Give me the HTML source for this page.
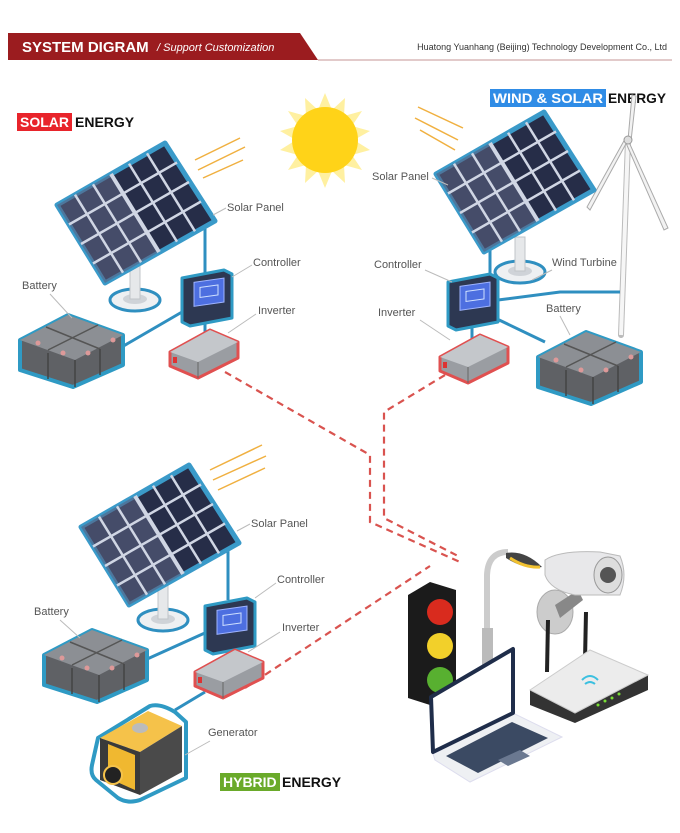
<!DOCTYPE html>
<html><head><meta charset="utf-8"><style>
html,body{margin:0;padding:0;background:#fff;}
svg{display:block;font-family:"Liberation Sans",sans-serif;}
.lb{font-size:11px;fill:#555;}
.ld{stroke:#bbb;stroke-width:1;fill:none;}
.w{stroke:#2f8fc0;stroke-width:3;fill:none;}
.d{stroke:#d9534f;stroke-width:2.2;stroke-dasharray:7 5;fill:none;}
</style></head><body>
<svg width="680" height="833" viewBox="0 0 680 833" xmlns="http://www.w3.org/2000/svg">
<defs>
<g id="panel">
<polygon points="-79,-8 29,-70 79,8 -31,70" fill="#262d48" stroke="#3a9ac9" stroke-width="5" stroke-linejoin="round"/>
<polygon points="-79,-8 -25,-39 23,39 -31,70" fill="#5a6080" opacity="0.6"/>
<g stroke="#d0d6e4" stroke-width="2.5">
<line x1="-61" y1="-18.3" x2="-13" y2="59.7"/><line x1="-43" y1="-28.7" x2="5" y2="49.3"/>
<line x1="-25" y1="-39" x2="23" y2="39" stroke-width="4"/><line x1="-7" y1="-49.3" x2="41" y2="28.7"/>
<line x1="11" y1="-59.7" x2="59" y2="18.3"/>
<line x1="-67" y1="11.5" x2="41" y2="-50.5"/><line x1="-55" y1="31" x2="53" y2="-31"/>
<line x1="-43" y1="50.5" x2="65" y2="-11.5"/>
</g>
</g>
<g id="stand">
<ellipse cx="0" cy="0" rx="25" ry="11" fill="#eef0f2" stroke="#2f8fc0" stroke-width="3"/>
<ellipse cx="0" cy="-1" rx="12" ry="5" fill="#cfd3d8"/>
<rect x="-5" y="-35" width="10" height="34" fill="#e6e8ea" stroke="#c0c4c8"/>
</g>
<g id="bat">
<polygon points="2,25 50,0 105,20 105,50 55,72 2,55" fill="#5f6165" stroke="#2f9ac4" stroke-width="4" stroke-linejoin="round"/>
<polygon points="2,25 50,0 105,20 57,45" fill="#8c8f94"/>
<line x1="28" y1="12" x2="82" y2="34" stroke="#555" stroke-width="1.5"/>
<line x1="30" y1="35" x2="80" y2="10" stroke="#555" stroke-width="1.5"/>
<line x1="57" y1="45" x2="57" y2="72" stroke="#444" stroke-width="1.5"/>
<line x1="30" y1="38" x2="30" y2="64" stroke="#444" stroke-width="1.5"/>
<line x1="82" y1="34" x2="82" y2="60" stroke="#444" stroke-width="1.5"/>
<circle cx="20" cy="28" r="2.5" fill="#d99"/><circle cx="45" cy="38" r="2.5" fill="#d99"/><circle cx="70" cy="38" r="2.5" fill="#d99"/><circle cx="95" cy="25" r="2.5" fill="#d99"/>
</g>
<g id="ctrl">
<polygon points="0,8 42,0 50,4 50,48 8,56 0,52" fill="#2d3852" stroke="#2f9ac4" stroke-width="3" stroke-linejoin="round"/>
<rect x="12" y="14" width="30" height="24" fill="#4d6fe0" stroke="#9fb4ff" stroke-width="1" transform="skewY(-8)"/>
<rect x="18" y="20" width="18" height="10" fill="none" stroke="#cfe0ff" stroke-width="1" transform="skewY(-8)"/>
</g>
<g id="inv">
<polygon points="0,22 40,0 68,12 68,28 28,48 0,36" fill="#9a9da2" stroke="#e05050" stroke-width="3" stroke-linejoin="round"/>
<polygon points="0,22 40,0 68,12 28,32" fill="#c4c7cb"/>
<line x1="28" y1="32" x2="28" y2="48" stroke="#666"/>
<rect x="3" y="27" width="4" height="6" fill="#d33"/>
</g>
</defs>

<!-- header -->
<polygon points="8,33 300,33 318,60 8,60" fill="#9b1c1f"/>
<line x1="318" y1="60" x2="672" y2="60" stroke="#d8b8b8" stroke-width="1.5"/>
<text x="22" y="52" font-size="15" font-weight="bold" fill="#fff">SYSTEM DIGRAM</text>
<text x="157" y="51" font-size="11" font-style="italic" fill="#fff">/ Support Customization</text>
<text x="667" y="50" font-size="9" fill="#333" text-anchor="end">Huatong Yuanhang (Beijing) Technology Development Co., Ltd</text>

<!-- titles -->
<rect x="17" y="113" width="55" height="18" fill="#e8242b"/>
<text x="20" y="127" font-size="14" font-weight="bold" fill="#fff">SOLAR</text>
<text x="75" y="127" font-size="14" font-weight="bold" fill="#111">ENERGY</text>
<rect x="490" y="89" width="116" height="18" fill="#2f8ce6"/>
<text x="493" y="103" font-size="14" font-weight="bold" fill="#fff" textLength="110" lengthAdjust="spacingAndGlyphs">WIND &amp; SOLAR</text>
<text x="608" y="103" font-size="14" font-weight="bold" fill="#111" textLength="58" lengthAdjust="spacingAndGlyphs">ENERGY</text>
<rect x="220" y="773" width="60" height="18" fill="#6aaa2a"/>
<text x="223" y="787" font-size="14" font-weight="bold" fill="#fff">HYBRID</text>
<text x="282" y="787" font-size="14" font-weight="bold" fill="#111">ENERGY</text>

<!-- sun -->
<polygon points="325,93 332,110 345,98 344,116 362,111 352,126 370,131 354,140 370,150 352,155 362,170 344,165 345,183 332,171 325,188 318,171 305,183 306,165 288,170 298,155 280,150 296,140 280,131 298,126 288,111 306,116 305,98 318,110" fill="#fff0a0"/>
<circle cx="325" cy="140" r="33" fill="#ffd318"/>
<g stroke="#f0b040" stroke-width="1.5">
<line x1="195" y1="160" x2="240" y2="138"/><line x1="198" y1="170" x2="245" y2="147"/><line x1="203" y1="178" x2="243" y2="160"/>
<line x1="418" y1="107" x2="463" y2="128"/><line x1="415" y1="118" x2="458" y2="140"/><line x1="420" y1="130" x2="455" y2="150"/>
<line x1="210" y1="470" x2="262" y2="445"/><line x1="213" y1="480" x2="266" y2="456"/><line x1="218" y1="490" x2="265" y2="468"/>
</g>

<!-- dashed connectors -->
<polyline class="d" points="225,372 370,455 370,522 460,562"/>
<polyline class="d" points="445,375 384,412 384,518 458,556"/>
<polyline class="d" points="245,688 430,566"/>

<!-- TOP LEFT system -->
<use href="#stand" x="135" y="300"/>
<polyline class="w" points="205,222 205,280"/>
<line class="w" x1="120" y1="348" x2="182" y2="312"/>
<line class="w" x1="205" y1="322" x2="205" y2="336"/>
<use href="#panel" x="136" y="213"/>
<use href="#bat" x="18" y="315"/>
<use href="#ctrl" x="182" y="270"/>
<use href="#inv" x="170" y="330"/>
<text class="lb" x="227" y="211">Solar Panel</text><line class="ld" x1="213" y1="215" x2="226" y2="208"/>
<text class="lb" x="253" y="266">Controller</text><line class="ld" x1="232" y1="277" x2="252" y2="265"/>
<text class="lb" x="22" y="289">Battery</text><line class="ld" x1="50" y1="294" x2="72" y2="318"/>
<text class="lb" x="258" y="314">Inverter</text><line class="ld" x1="228" y1="333" x2="256" y2="314"/>

<!-- TOP RIGHT system -->
<line x1="628" y1="140" x2="621" y2="335" stroke="#bbb" stroke-width="6" stroke-linecap="round"/>
<line x1="628" y1="140" x2="621" y2="335" stroke="#f6f6f6" stroke-width="4"/>
<g fill="#f2f2f2" stroke="#aaa" stroke-width="1">
<polygon points="628,140 632,95 636,96 631,141"/>
<polygon points="628,140 668,228 664,230 626,143"/>
<polygon points="628,140 590,210 587,207 625,139"/>
</g>
<circle cx="628" cy="140" r="4" fill="#ddd" stroke="#999"/>
<use href="#stand" x="520" y="272"/>
<polyline class="w" points="490,225 490,282"/>
<polyline class="w" points="498,300 560,292 620,292"/>
<polyline class="w" points="495,318 545,342"/>
<line class="w" x1="472" y1="328" x2="472" y2="342"/>
<use href="#panel" x="515" y="182"/>
<use href="#bat" x="536" y="332"/>
<use href="#ctrl" x="448" y="274"/>
<use href="#inv" x="440" y="335"/>
<text class="lb" x="372" y="180">Solar Panel</text><line class="ld" x1="432" y1="178" x2="448" y2="185"/>
<text class="lb" x="374" y="268">Controller</text><line class="ld" x1="425" y1="270" x2="452" y2="282"/>
<text class="lb" x="378" y="316">Inverter</text><line class="ld" x1="420" y1="320" x2="450" y2="340"/>
<text class="lb" x="546" y="312">Battery</text><line class="ld" x1="560" y1="316" x2="570" y2="335"/>
<text class="lb" x="552" y="266">Wind Turbine</text><line class="ld" x1="552" y1="270" x2="532" y2="280"/>

<!-- BOTTOM system -->
<use href="#stand" x="163" y="620"/>
<polyline class="w" points="228,545 228,600"/>
<line class="w" x1="145" y1="660" x2="207" y2="632"/>
<line class="w" x1="228" y1="648" x2="228" y2="656"/>
<line class="w" x1="175" y1="710" x2="205" y2="692"/>
<use href="#panel" x="160" y="535"/>
<use href="#bat" x="42" y="630"/>
<use href="#ctrl" x="205" y="598"/>
<use href="#inv" x="195" y="650"/>
<!-- generator -->
<path d="M98,738 L150,706 Q160,703 175,712 L186,722 L186,778 L140,800 Q128,804 118,798 L96,780 Q90,775 92,765 Z" fill="#fff" stroke="#2f9ac4" stroke-width="4" stroke-linejoin="round"/>
<polygon points="100,738 148,711 182,726 140,752" fill="#f5c24a"/>
<polygon points="100,738 140,752 140,795 100,780" fill="#3a3a3a"/>
<polygon points="140,752 182,726 182,772 140,795" fill="#4a4a4a"/>
<polygon points="108,744 135,755 135,790 108,778" fill="#f0b830"/>
<ellipse cx="140" cy="728" rx="8" ry="5" fill="#bbb"/>
<circle cx="113" cy="775" r="9" fill="#222" stroke="#f5c24a" stroke-width="2"/>
<text class="lb" x="208" y="736">Generator</text><line class="ld" x1="210" y1="741" x2="185" y2="755"/>
<text class="lb" x="251" y="527">Solar Panel</text><line class="ld" x1="237" y1="531" x2="250" y2="524"/>
<text class="lb" x="277" y="583">Controller</text><line class="ld" x1="255" y1="598" x2="276" y2="583"/>
<text class="lb" x="34" y="615">Battery</text><line class="ld" x1="60" y1="620" x2="80" y2="638"/>
<text class="lb" x="282" y="631">Inverter</text><line class="ld" x1="248" y1="652" x2="280" y2="632"/>

<!-- devices -->
<path d="M487,660 L487,575 Q488,552 508,552" stroke="#ccc" stroke-width="6" fill="none"/>
<path d="M506,553 Q525,550 542,567 Q525,570 506,558Z" fill="#444"/>
<path d="M510,558 Q525,568 540,567" stroke="#f2c230" stroke-width="3" fill="none"/>
<rect x="482" y="628" width="11" height="40" fill="#bbb"/>
<ellipse cx="555" cy="612" rx="18" ry="22" fill="#ccc" stroke="#aaa"/>
<polygon points="555,605 578,590 583,600 560,618" fill="#888"/>
<path d="M545,560 Q560,550 600,552 L620,556 Q628,575 620,595 L575,595 Q550,590 545,575Z" fill="#e8e8ea" stroke="#bbb"/>
<ellipse cx="608" cy="575" rx="14" ry="18" fill="#ddd" stroke="#999"/>
<circle cx="608" cy="575" r="8" fill="#555"/>
<polygon points="408,595 430,582 456,590 456,703 430,705 408,698" fill="#1b1b1b"/>
<circle cx="440" cy="612" r="13" fill="#d92b1e"/>
<circle cx="440" cy="646" r="13" fill="#f2d02a"/>
<circle cx="440" cy="680" r="13" fill="#58b030"/>
<line x1="548" y1="620" x2="547" y2="672" stroke="#222" stroke-width="4"/>
<line x1="586" y1="612" x2="585" y2="660" stroke="#222" stroke-width="4"/>
<polygon points="530,690 590,650 648,675 648,690 575,723 530,705" fill="#333"/>
<polygon points="530,690 590,650 648,675 575,713" fill="#ececec" stroke="#ccc"/>
<path d="M582,680 q8,-8 16,0 M585,684 q5,-4 10,0" stroke="#3cc0e0" stroke-width="2" fill="none"/>
<g fill="#7d3"><circle cx="598" cy="705" r="1.5"/><circle cx="605" cy="701" r="1.5"/><circle cx="612" cy="698" r="1.5"/><circle cx="619" cy="694" r="1.5"/></g>
<!-- laptop -->
<polygon points="433,754 513,713 562,737 470,782 435,760" fill="#eef0f3" stroke="#dde"/>
<polygon points="446,756 512,722 548,738 478,773" fill="#3b4a63"/>
<polygon points="498,760 520,750 530,756 508,766" fill="#6a7890"/>
<polygon points="431,697 513,649 513,713 433,752" fill="#fff" stroke="#1f2d4a" stroke-width="4" stroke-linejoin="round"/>
</svg>
</body></html>
